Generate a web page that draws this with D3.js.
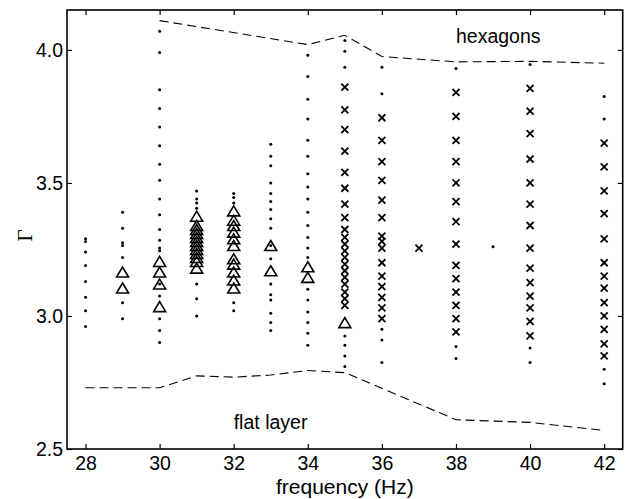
<!DOCTYPE html>
<html>
<head>
<meta charset="utf-8">
<script src="https://cdn.jsdelivr.net/npm/d3@7"></script>
<style>
  body { margin: 0; background: #fff; }
  svg text { font-family: "Liberation Sans", Arial, sans-serif; fill: #000; }
</style>
</head>
<body>
<div id="chart"></div>
<script>
const width = 628
const height = 499

// tick values
const xTicks = [28, 30, 32, 34, 36, 38, 40, 42]
const yTicks = [2.5, 3.0, 3.5, 4.0]

// small dots: [frequency, [gamma values]]
const dots = [
    [28, [3.29, 3.28, 3.24, 3.19, 3.13, 3.07, 3.02, 2.96]],
    [29, [3.39, 3.33, 3.275, 3.265, 3.22, 3.05, 2.99]],
    [30, [4.07, 3.99, 3.85, 3.78, 3.71, 3.64, 3.57, 3.51, 3.44, 3.38, 3.325, 3.285, 3.255, 3.245, 3.12, 3.075, 2.99, 2.945, 2.90]],
    [31, [3.47, 3.44, 3.425, 3.405, 3.12, 3.065, 3.00]],
    [32, [3.46, 3.445, 3.425, 3.05, 3.02]],
    [33, [3.645, 3.60, 3.565, 3.50, 3.46, 3.43, 3.40, 3.365, 3.33, 3.265, 3.215, 3.12, 3.08, 3.06, 3.01, 2.975, 2.945]],
    [34, [3.98, 3.90, 3.815, 3.74, 3.66, 3.60, 3.535, 3.485, 3.44, 3.39, 3.34, 3.295, 3.255, 3.22, 3.10, 3.06, 3.015, 2.975, 2.935, 2.89]],
    [35, [4.035, 3.995, 3.935, 2.925, 2.89, 2.85, 2.81]],
    [36, [3.935, 3.835, 2.95, 2.91, 2.825]],
    [38, [3.93, 2.885, 2.84]],
    [39, [3.26]],
    [40, [3.945, 2.88, 2.825]],
    [42, [3.825, 3.74, 2.80, 2.745]]
]

// open triangles
const triangles = [
    [29, [3.165, 3.105]],
    [30, [3.205, 3.165, 3.12, 3.035]],
    [31, [3.375, 3.34, 3.325, 3.31, 3.295, 3.28, 3.265, 3.25, 3.235, 3.22, 3.205, 3.18]],
    [32, [3.395, 3.36, 3.34, 3.315, 3.29, 3.265, 3.215, 3.195, 3.165, 3.135, 3.105]],
    [33, [3.265, 3.17]],
    [34, [3.185, 3.145]],
    [35, [2.975]]
]

// crosses
const crosses = [
    [35, [3.86, 3.775, 3.70, 3.62, 3.54, 3.48, 3.42, 3.37, 3.325, 3.295, 3.27, 3.245, 3.22, 3.195, 3.17, 3.145, 3.12, 3.09, 3.065, 3.04]],
    [36, [3.745, 3.66, 3.58, 3.51, 3.435, 3.37, 3.30, 3.28, 3.255, 3.20, 3.15, 3.11, 3.07, 3.03, 2.99]],
    [37, [3.255]],
    [38, [3.84, 3.75, 3.66, 3.58, 3.50, 3.43, 3.355, 3.27, 3.19, 3.14, 3.09, 3.04, 2.99, 2.94]],
    [40, [3.855, 3.77, 3.685, 3.59, 3.50, 3.42, 3.34, 3.255, 3.18, 3.125, 3.075, 3.03, 2.98, 2.925]],
    [42, [3.65, 3.56, 3.47, 3.385, 3.29, 3.20, 3.15, 3.105, 3.05, 3.00, 2.95, 2.895, 2.85]]
]

// dashed boundaries
const hexBoundary = [[30, 4.11], [34, 4.02], [35, 4.055], [36, 3.975], [38, 3.955], [40, 3.957], [42, 3.95]]
const flatBoundary = [[28, 2.73], [30, 2.73], [31, 2.775], [32, 2.77], [33, 2.778], [34, 2.795], [35, 2.787], [38, 2.61], [40, 2.60], [42, 2.57]]

const plotLeft = 67, plotRight = 622.7, plotTop = 10, plotBottom = 449

const x = d3.scaleLinear().domain([27.5, 42.5]).range([plotLeft, plotRight])
const y = d3.scaleLinear().domain([2.5, 4.15]).range([plotBottom, plotTop])

const svg = d3.select('#chart')
    .append('svg')
    .attr('width', width)
    .attr('height', height)

svg.append('rect')
    .attr('width', width)
    .attr('height', height)
    .attr('fill', '#fff')

const flat = arr => arr.flatMap(([f, vs]) => vs.map(v => [f, v]))

// boundaries
const line = d3.line().x(d => x(d[0])).y(d => y(d[1]))
;[hexBoundary, flatBoundary].forEach(b => {
    svg.append('path')
        .attr('d', line(b))
        .attr('fill', 'none')
        .attr('stroke', '#000')
        .attr('stroke-width', 1.1)
        .attr('stroke-dasharray', '9,5')
})

// dots
svg.append('g').selectAll('circle')
    .data(flat(dots))
    .enter()
    .append('circle')
    .attr('cx', d => x(d[0]))
    .attr('cy', d => y(d[1]))
    .attr('r', 1.5)
    .attr('fill', '#000')

// triangles
svg.append('g').selectAll('path')
    .data(flat(triangles))
    .enter()
    .append('path')
    .attr('transform', d => `translate(${x(d[0])},${y(d[1])})`)
    .attr('d', 'M0,-5L6,5L-6,5Z')
    .attr('fill', 'none')
    .attr('stroke', '#000')
    .attr('stroke-width', 1.6)

// crosses
svg.append('g').selectAll('path')
    .data(flat(crosses))
    .enter()
    .append('path')
    .attr('transform', d => `translate(${x(d[0])},${y(d[1])})`)
    .attr('d', 'M-3.5,-3.5L3.5,3.5M-3.5,3.5L3.5,-3.5')
    .attr('stroke', '#000')
    .attr('stroke-width', 1.8)

// axes, ticks pointing inward
const xAxis = d3.axisBottom(x).tickValues(xTicks).tickSizeInner(-5).tickSizeOuter(0).tickPadding(7.5)
const yAxis = d3.axisLeft(y).tickValues(yTicks).tickFormat(d3.format('.1f')).tickSizeInner(-5).tickSizeOuter(0).tickPadding(4)

const gx = svg.append('g').attr('transform', `translate(0,${plotBottom})`).call(xAxis)
const gy = svg.append('g').attr('transform', `translate(${plotLeft},0)`).call(yAxis)
const gt = svg.append('g').attr('transform', `translate(0,${plotTop})`)
    .call(d3.axisTop(x).tickValues(xTicks).tickSizeInner(-5).tickSizeOuter(0).tickFormat(''))
const gr = svg.append('g').attr('transform', `translate(${plotRight},0)`)
    .call(d3.axisRight(y).tickValues(yTicks).tickSizeInner(-5).tickSizeOuter(0).tickFormat(''))

;[gx, gy, gt, gr].forEach(g => {
    g.select('.domain').remove()
    g.selectAll('.tick line').attr('stroke', '#000').attr('stroke-width', 1.2)
    g.selectAll('.tick text')
        .attr('font-family', '"Liberation Sans", Arial, sans-serif')
        .attr('font-size', 19.5)
        .attr('fill', '#000')
})

// frame
svg.append('rect')
    .attr('x', plotLeft)
    .attr('y', plotTop)
    .attr('width', plotRight - plotLeft)
    .attr('height', plotBottom - plotTop)
    .attr('fill', 'none')
    .attr('stroke', '#000')
    .attr('stroke-width', 1.6)

// labels
svg.append('text')
    .attr('x', (plotLeft + plotRight) / 2)
    .attr('y', 494)
    .attr('text-anchor', 'middle')
    .attr('font-size', 21)
    .text('frequency (Hz)')

svg.append('text')
    .attr('transform', `translate(32,${(plotTop + plotBottom) / 2 + 6}) rotate(-90)`)
    .attr('text-anchor', 'middle')
    .style('font-family', '"Liberation Serif", "Times New Roman", serif')
    .attr('font-size', 21)
    .text('Γ')

svg.append('text')
    .attr('x', x(38))
    .attr('y', y(4.025))
    .attr('font-size', 19.5)
    .text('hexagons')

svg.append('text')
    .attr('x', x(32))
    .attr('y', y(2.575))
    .attr('font-size', 19.5)
    .text('flat layer')
</script>
</body>
</html>
